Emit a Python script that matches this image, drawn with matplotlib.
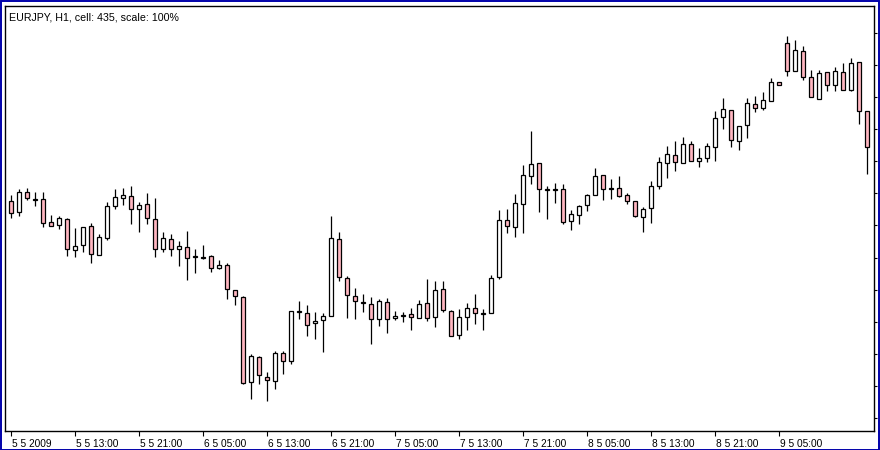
import numpy as np
import matplotlib
matplotlib.use("Agg")
import matplotlib.pyplot as plt
import matplotlib.transforms as mtransforms
from matplotlib.patches import Rectangle

title_text = "EURJPY, H1, cell: 435, scale: 100%"

open_ = [132.99, 132.88, 133.08, 133.00, 133.01, 132.78, 132.75, 132.81, 132.50, 132.55,
         132.74, 132.45, 132.62, 132.94, 133.02, 133.04, 132.91, 132.96, 132.81, 132.51,
         132.61, 132.51, 132.53, 132.43, 132.42, 132.44, 132.32, 132.35, 132.10, 132.03,
         131.18, 131.43, 131.23, 131.19, 131.47, 131.39, 131.88, 131.87, 131.77, 131.80,
         131.84, 132.61, 132.22, 132.04, 131.97, 131.96, 131.81, 131.98, 131.82, 131.84,
         131.86, 131.82, 131.97, 131.83, 132.11, 131.89, 131.65, 131.83, 131.92, 131.86,
         131.87, 132.23, 132.80, 132.73, 132.96, 133.24, 133.37, 133.10, 133.10, 133.11,
         132.79, 132.85, 132.95, 133.05, 133.25, 133.11, 133.12, 133.05, 132.99, 132.83,
         132.92, 133.14, 133.37, 133.45, 133.37, 133.56, 133.39, 133.42, 133.53, 133.83,
         133.90, 133.59, 133.75, 133.96, 133.92, 133.99, 134.18, 134.57, 134.29, 134.49,
         134.23, 134.01, 134.28, 134.15, 134.28, 134.10, 134.38, 133.89]
high = [133.05, 133.11, 133.12, 133.08, 133.08, 132.85, 132.84, 132.82, 132.72, 132.73,
        132.77, 132.66, 132.98, 133.11, 133.12, 133.14, 132.98, 133.07, 133.02, 132.68,
        132.66, 132.59, 132.69, 132.51, 132.55, 132.45, 132.40, 132.37, 132.10, 132.04,
        131.46, 131.44, 131.28, 131.49, 131.49, 131.89, 131.99, 131.95, 131.88, 131.87,
        132.84, 132.68, 132.24, 132.12, 132.06, 132.03, 132.01, 132.02, 131.89, 131.88,
        131.92, 132.00, 132.21, 132.19, 132.19, 131.90, 131.91, 131.97, 132.06, 131.91,
        132.25, 132.90, 132.91, 133.06, 133.35, 133.69, 133.37, 133.14, 133.17, 133.16,
        132.90, 132.95, 133.06, 133.32, 133.25, 133.21, 133.24, 133.07, 132.99, 132.93,
        133.19, 133.43, 133.54, 133.59, 133.63, 133.59, 133.52, 133.57, 133.89, 134.02,
        133.90, 133.74, 134.02, 134.04, 134.08, 134.22, 134.18, 134.64, 134.60, 134.54,
        134.30, 134.30, 134.28, 134.33, 134.37, 134.42, 134.38, 133.89]
low = [132.82, 132.84, 133.00, 132.94, 132.73, 132.74, 132.71, 132.44, 132.43, 132.48,
       132.37, 132.45, 132.60, 132.91, 132.95, 132.76, 132.68, 132.76, 132.43, 132.48,
       132.44, 132.34, 132.20, 132.27, 132.41, 132.28, 132.31, 132.01, 131.95, 131.16,
       131.01, 131.16, 130.99, 131.11, 131.26, 131.36, 131.81, 131.64, 131.61, 131.48,
       131.84, 132.19, 131.82, 131.81, 131.88, 131.56, 131.74, 131.67, 131.80, 131.78,
       131.70, 131.82, 131.79, 131.73, 131.88, 131.64, 131.61, 131.70, 131.76, 131.70,
       131.87, 132.21, 132.67, 132.63, 132.67, 133.16, 132.88, 132.81, 132.97, 132.76,
       132.70, 132.76, 132.89, 133.05, 133.00, 133.01, 133.03, 132.96, 132.83, 132.68,
       132.77, 133.11, 133.22, 133.29, 133.37, 133.39, 133.33, 133.38, 133.39, 133.71,
       133.53, 133.50, 133.62, 133.88, 133.90, 133.99, 134.15, 134.24, 134.29, 134.20,
       134.03, 134.01, 134.09, 134.09, 134.10, 134.09, 133.76, 133.26]
close = [132.87, 133.08, 133.02, 133.00, 132.77, 132.74, 132.82, 132.51, 132.54, 132.73,
         132.46, 132.63, 132.94, 133.03, 133.05, 132.91, 132.95, 132.82, 132.51, 132.62,
         132.51, 132.54, 132.42, 132.43, 132.42, 132.32, 132.35, 132.11, 132.04, 131.17,
         131.44, 131.25, 131.20, 131.47, 131.39, 131.89, 131.88, 131.75, 131.79, 131.84,
         132.62, 132.23, 132.05, 131.99, 131.97, 131.81, 131.99, 131.81, 131.84, 131.84,
         131.83, 131.96, 131.82, 132.10, 131.90, 131.64, 131.83, 131.92, 131.87, 131.86,
         132.22, 132.80, 132.74, 132.97, 133.25, 133.36, 133.11, 133.10, 133.10, 132.78,
         132.86, 132.94, 133.05, 133.24, 133.11, 133.11, 133.04, 132.99, 132.84, 132.91,
         133.14, 133.38, 133.46, 133.38, 133.56, 133.39, 133.42, 133.54, 133.82, 133.91,
         133.60, 133.74, 133.97, 133.92, 134.00, 134.18, 134.15, 134.29, 134.50, 134.23,
         134.03, 134.27, 134.15, 134.29, 134.10, 134.37, 133.89, 133.53]

tick_labels = ["5 5 2009", "5 5 13:00", "5 5 21:00", "6 5 05:00", "6 5 13:00",
               "6 5 21:00", "7 5 05:00", "7 5 13:00", "7 5 21:00", "8 5 05:00",
               "8 5 13:00", "8 5 21:00", "9 5 05:00"]
label_step = 8

W, H = 880, 450
fig = plt.figure(figsize=(W / 100, H / 100), dpi=100)
fig.patch.set_facecolor("white")

ax = fig.add_axes([5 / W, 1 - 431 / H, (874 - 5) / W, (431 - 6) / H])
ax.set_facecolor("white")

x = np.arange(len(open_))
o = np.array(open_)
c = np.array(close)
hi = np.array(high)
lo = np.array(low)

ax.vlines(x, lo, hi, color="black", linewidth=0.9, zorder=2)
bull = c >= o
body_bottom = np.minimum(o, c)
body_h = np.maximum(np.abs(c - o), 0.008)
colors = np.where(bull, "white", "#FFB6C1")
ax.bar(x, body_h, bottom=body_bottom, width=0.55, color=colors,
       edgecolor="black", linewidth=0.9, zorder=3)

ax.set_xlim(-0.75, 107.875)
ax.set_ylim(135.0 - 4.31, 135.0 - 0.06)

# x ticks
xt = np.arange(len(tick_labels)) * label_step
ax.set_xticks(xt)
ax.set_xticklabels(tick_labels, ha="left", fontsize=7.3, family="Liberation Sans")
ax.tick_params(axis="x", direction="out", length=3.5, width=0.8, pad=2.5, colors="black")
offset = mtransforms.ScaledTranslation(0.8 / 100, 0, fig.dpi_scale_trans)
for lbl in ax.get_xticklabels():
    lbl.set_transform(lbl.get_transform() + offset)

# y ticks on the right, no labels
yt = 134.67 - np.arange(13) * 0.3208
ax.yaxis.tick_right()
ax.set_yticks(yt)
ax.set_yticklabels([])
ax.tick_params(axis="y", direction="out", length=2.5, width=0.8, colors="black")

for s in ax.spines.values():
    s.set_color("black")
    s.set_linewidth(1.0)

ax.text(4 / 869, 1 - 11 / 425, title_text, transform=ax.transAxes,
        fontsize=7.7, family="Liberation Sans", va="center", ha="left", color="black")

# outer blue frame
fig.patches.append(Rectangle((0.5 / W, 0.5 / H), 1 - 1.5 / W, 1 - 1.5 / H,
                             transform=fig.transFigure, fill=False,
                             edgecolor="#0000AA", linewidth=1.4))

fig.savefig("out.png", dpi=100, facecolor="white")
